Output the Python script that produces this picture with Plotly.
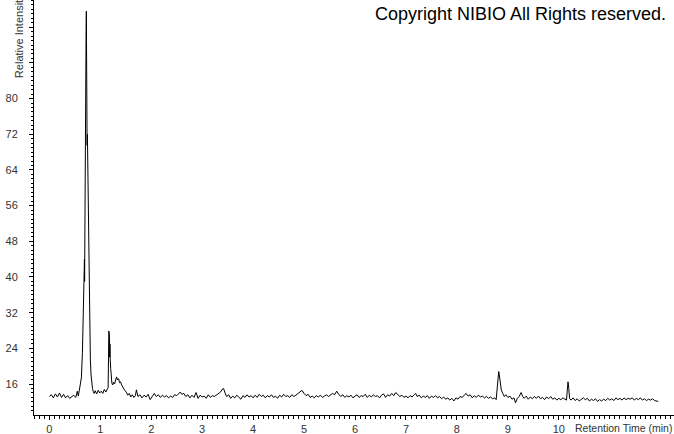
import plotly.graph_objects as go

# Retention time (min) and relative intensity
time_min = [
    0.00, 0.04, 0.08, 0.12, 0.16, 0.20, 0.24, 0.28, 0.32, 0.36, 0.40, 0.44, 0.48, 0.52,
    0.55, 0.57, 0.59, 0.61, 0.63, 0.65, 0.665, 0.68, 0.687, 0.69, 0.693, 0.695, 0.70, 0.707,
    0.715, 0.722, 0.727, 0.731, 0.734, 0.738, 0.742, 0.748, 0.755, 0.766, 0.779, 0.792,
    0.806, 0.82, 0.832, 0.848, 0.864,
    0.88, 0.90, 0.93, 0.96, 0.99, 1.02, 1.05, 1.08, 1.11, 1.14,
    1.155, 1.162, 1.168, 1.174, 1.18, 1.186, 1.19, 1.196, 1.205, 1.215, 1.228, 1.243,
    1.26, 1.28, 1.30, 1.32, 1.34, 1.36, 1.38, 1.40, 1.42, 1.45, 1.48, 1.51, 1.54, 1.57,
    1.60, 1.63, 1.66, 1.69, 1.71, 1.74, 1.78, 1.82, 1.86, 1.90, 1.94, 1.98,
    2.02, 2.06, 2.10, 2.14, 2.18, 2.22, 2.26, 2.30, 2.34, 2.38, 2.42, 2.46, 2.50, 2.54,
    2.57, 2.60, 2.64, 2.68, 2.72, 2.76, 2.80, 2.84, 2.88, 2.92, 2.96, 3.00, 3.04, 3.08,
    3.12, 3.16, 3.20, 3.24, 3.28, 3.32, 3.36, 3.40, 3.42, 3.45, 3.48, 3.52, 3.56, 3.60,
    3.64, 3.68, 3.72, 3.76, 3.80, 3.84, 3.88, 3.92, 3.96, 4.00, 4.04, 4.08, 4.12, 4.16,
    4.20, 4.24, 4.28, 4.32, 4.36, 4.40, 4.44, 4.48, 4.52, 4.56, 4.60, 4.64, 4.68, 4.72,
    4.76, 4.80, 4.84, 4.88, 4.92, 4.96, 5.00, 5.04, 5.08, 5.12, 5.16, 5.20, 5.24, 5.28,
    5.32, 5.36, 5.40, 5.44, 5.48, 5.52, 5.56, 5.60, 5.64, 5.68, 5.72, 5.76, 5.80, 5.84,
    5.88, 5.92, 5.96, 6.00, 6.04, 6.08, 6.12, 6.16, 6.20, 6.24, 6.28, 6.32, 6.36, 6.40,
    6.44, 6.48, 6.52, 6.56, 6.60, 6.64, 6.68, 6.72, 6.76, 6.80, 6.84, 6.88, 6.92, 6.96,
    7.00, 7.04, 7.08, 7.12, 7.16, 7.19, 7.22, 7.26, 7.30, 7.34, 7.38, 7.42, 7.46, 7.50,
    7.54, 7.58, 7.62, 7.66, 7.70, 7.74, 7.78, 7.82, 7.86, 7.90, 7.94, 7.98, 8.02, 8.06,
    8.10, 8.14, 8.18, 8.22, 8.26, 8.30, 8.34, 8.38, 8.42, 8.46, 8.50, 8.54, 8.58, 8.62,
    8.66, 8.70, 8.74, 8.77, 8.79, 8.81, 8.82, 8.83, 8.85, 8.87, 8.90, 8.93, 8.96, 9.00,
    9.04, 9.08, 9.12, 9.15, 9.18, 9.22, 9.26, 9.29, 9.32, 9.36, 9.40, 9.44, 9.48, 9.52,
    9.56, 9.60, 9.64, 9.68, 9.72, 9.76, 9.80, 9.84, 9.88, 9.92, 9.96, 10.00, 10.04, 10.08,
    10.12, 10.15, 10.165, 10.18, 10.195, 10.21, 10.24, 10.28, 10.32, 10.36, 10.40, 10.44, 10.48, 10.52,
    10.56, 10.60, 10.64, 10.68, 10.72, 10.76, 10.80, 10.84, 10.88, 10.92, 10.96, 11.00, 11.04, 11.08,
    11.12, 11.16, 11.20, 11.24, 11.28, 11.32, 11.36, 11.40, 11.44, 11.48, 11.52, 11.56, 11.60, 11.64,
    11.68, 11.72, 11.76, 11.80, 11.84, 11.88, 11.92, 11.95,
]

intensity = [
    13.2, 13.6, 12.9, 13.8, 13.1, 14.0, 13.0, 13.7, 12.9, 13.4, 12.8, 13.1, 13.5, 13.0,
    14.4, 13.3, 14.6, 15.8, 17.4, 23.0, 32.0, 36.5, 38.2, 44.0, 39.0, 45.5, 56.0, 69.0,
    84.0, 95.0, 99.6, 90.0, 80.5, 79.0, 69.5, 72.0, 66.0, 57.0, 35.0, 27.0,
    21.4, 18.0, 16.2, 15.0, 14.3,
    13.9, 14.5, 13.8, 14.6, 14.0, 14.4, 13.9, 14.8, 14.2, 14.9,
    15.2, 22.0, 27.9, 26.0, 27.0, 22.0, 25.0, 21.4, 19.5, 17.5, 16.2, 15.8,
    16.4, 16.0, 17.0, 17.6, 16.9, 17.2, 16.3, 16.5, 15.8, 15.0, 14.6, 14.2, 13.5, 13.9,
    13.1, 13.6, 13.0, 13.4, 14.7, 13.2, 13.6, 12.9, 13.5, 13.1, 13.7, 12.5,
    13.3, 13.9, 13.2, 13.6, 13.0, 13.5, 13.1, 13.4, 12.9, 13.3, 13.0, 13.6, 13.4, 13.9,
    14.2, 13.7, 13.9, 13.2, 13.6, 12.9, 13.5, 13.0, 14.1, 12.8, 13.5, 13.1, 13.3, 12.8,
    13.6, 13.0, 13.4, 13.2, 13.6, 13.8, 14.2, 14.9, 15.0, 14.0, 13.2, 13.6, 12.8, 13.3,
    12.9, 13.5, 13.0, 12.6, 13.4, 13.0, 13.6, 13.1, 13.4, 12.9, 13.5, 13.0, 13.7, 13.2,
    13.5, 12.9, 13.4, 13.1, 13.6, 13.0, 13.3, 12.8, 13.5, 13.1, 13.7, 13.2, 13.4, 13.0,
    13.6, 13.2, 13.5, 13.9, 14.2, 14.6, 13.9, 13.4, 13.7, 13.0, 13.3, 12.9, 13.4, 13.1,
    13.5, 13.0, 13.3, 13.6, 13.2, 13.5, 13.9, 13.6, 14.4, 13.7, 13.2, 13.6, 13.0, 13.4,
    13.1, 13.5, 12.9, 13.3, 13.6, 13.0, 13.4, 13.2, 13.7, 13.0, 13.5, 13.1, 13.6, 13.2,
    13.4, 12.9, 13.5, 13.8, 13.0, 13.6, 13.3, 13.9, 13.4, 14.1, 13.6, 13.2, 13.5, 13.0,
    13.3, 12.9, 13.4, 13.1, 13.6, 13.9, 13.2, 13.5, 12.9, 13.3, 13.0, 13.4, 12.8, 13.3,
    13.0, 13.4, 12.9, 13.2, 12.7, 13.1, 12.6, 12.9, 12.4, 12.8, 12.2, 12.9, 12.6, 13.2,
    13.0, 13.5, 13.9, 13.3, 13.6, 12.9, 13.4, 13.0, 13.5, 13.1, 13.3, 12.9, 13.2, 12.8,
    13.1, 12.7, 12.9, 12.5, 14.5, 18.0, 18.8, 18.2, 15.8, 14.7, 13.9, 13.2, 13.6, 13.0,
    13.3, 12.6, 12.9, 11.8, 12.7, 13.2, 14.1, 13.2, 12.8, 13.3, 12.6, 13.1, 12.7, 13.2,
    12.8, 13.3, 12.7, 13.0, 12.5, 13.1, 12.7, 13.2, 12.6, 12.9, 12.4, 12.8, 12.5, 12.9,
    12.6, 12.4, 14.5, 16.5, 15.0, 12.8, 12.4, 12.9, 12.3, 12.7, 12.2, 12.6, 12.9, 12.5,
    12.8, 12.2, 12.6, 12.3, 12.7, 12.1, 12.5, 12.2, 12.6, 12.3, 12.8, 12.4, 12.7, 12.3,
    12.9, 12.5, 12.8, 12.4, 12.9, 12.5, 12.8, 12.6, 12.9, 12.4, 12.8, 12.5, 12.9, 12.4,
    12.7, 12.3, 12.6, 12.4, 12.7, 12.3, 12.2, 12.1,
]

x_tick_values = [0, 1, 2, 3, 4, 5, 6, 7, 8, 9, 10]
x_tick_labels = ["0", "1", "2", "3", "4", "5", "6", "7", "8", "9", "10"]
y_tick_values = [16, 24, 32, 40, 48, 56, 64, 72, 80, 88, 96]
y_tick_labels = ["16", "24", "32", "40", "48", "56", "64", "72", "80", "", ""]

x_title = "Retention Time (min)"
y_title = "Relative Intensity"
copyright_text = "Copyright NIBIO All Rights reserved."

assert len(time_min) == len(intensity)

FONT = "Liberation Sans, Arial, sans-serif"
TICK_COLOR = "#333333"

fig = go.Figure()
fig.add_trace(go.Scatter(
    x=time_min, y=intensity, mode="lines",
    line=dict(color="black", width=1),
    hoverinfo="skip", showlegend=False,
))

fig.update_layout(
    width=674, height=434,
    margin=dict(l=34, r=0, t=0, b=19, pad=0),
    paper_bgcolor="white", plot_bgcolor="white",
    font=dict(family=FONT, size=11, color=TICK_COLOR),
    showlegend=False,
    xaxis=dict(
        range=[-0.30, 12.26], showgrid=False, zeroline=False,
        showline=True, linecolor="black", linewidth=1,
        ticks="outside", ticklen=4, tickcolor="black", tickwidth=1,
        tickmode="array", tickvals=x_tick_values, ticktext=x_tick_labels,
        tickfont=dict(family=FONT, size=11, color=TICK_COLOR),
        minor=dict(dtick=0.1, tick0=0, ticks="outside", ticklen=3, tickcolor="black", tickwidth=1, showgrid=False),
    ),
    yaxis=dict(
        range=[9.06, 102.1], showgrid=False, zeroline=False,
        showline=True, linecolor="black", linewidth=1,
        ticks="outside", ticklen=4, tickcolor="black", tickwidth=1,
        tickmode="array", tickvals=y_tick_values, ticktext=y_tick_labels,
        tickfont=dict(family=FONT, size=11, color=TICK_COLOR),
        ticklabelstandoff=9,
        minor=dict(dtick=1, tick0=0, ticks="outside", ticklen=2, tickcolor="black", tickwidth=1, showgrid=False),
    ),
    annotations=[
        dict(text=copyright_text, xref="paper", yref="paper", x=0.9906, y=0.966,
             xanchor="right", yanchor="middle", showarrow=False,
             font=dict(family=FONT, size=18, color="black")),
        dict(text=x_title, xref="paper", yref="paper", x=0.8422, y=-0.0313,
             xanchor="left", yanchor="middle", showarrow=False,
             font=dict(family=FONT, size=10.5, color=TICK_COLOR)),
        dict(text=y_title, xref="paper", yref="paper", x=-0.0234, y=0.913,
             xanchor="center", yanchor="middle", textangle=-90, showarrow=False,
             font=dict(family=FONT, size=11, color=TICK_COLOR)),
    ],
)

fig.write_html(
    "out.html",
    config={"displayModeBar": False},
    post_script="document.body.style.margin='0';document.body.style.padding='0';",
)
